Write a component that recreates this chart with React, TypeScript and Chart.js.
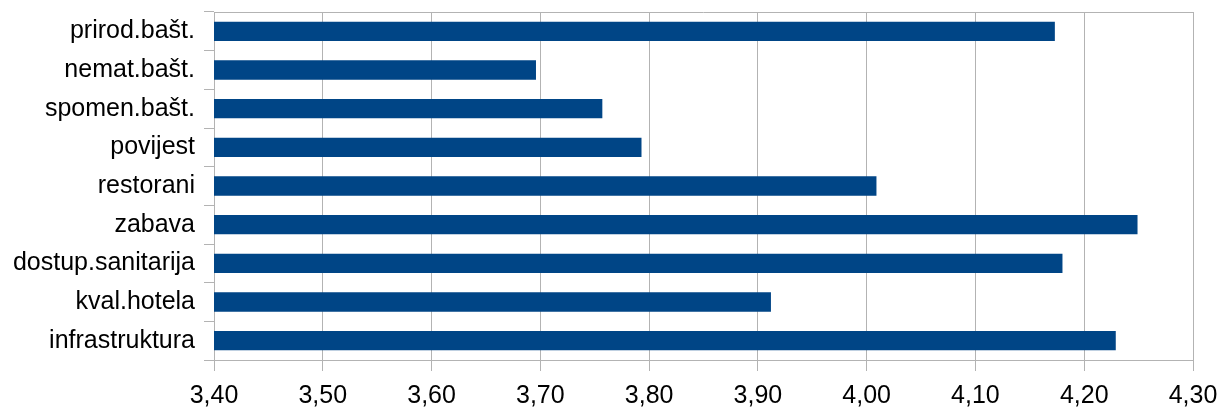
import React, { useEffect, useRef } from "react";
import { Chart, registerables } from "chart.js";

Chart.register(...registerables);

const categories = [
  "prirod.bašt.",
  "nemat.bašt.",
  "spomen.bašt.",
  "povijest",
  "restorani",
  "zabava",
  "dostup.sanitarija",
  "kval.hotela",
  "infrastruktura",
];
const values = [4.173, 3.696, 3.757, 3.793, 4.009, 4.249, 4.18, 3.912, 4.229];
const axisMin = 3.4;
const axisMax = 4.3;
const axisStep = 0.1;

const GRID = "#b3b3b3";
const BAR = "#004586";

const topBorder = {
  id: "topBorder",
  afterDraw(chart: any) {
    const { ctx, chartArea } = chart;
    ctx.save();
    ctx.strokeStyle = GRID;
    ctx.lineWidth = 1;
    ctx.beginPath();
    ctx.moveTo(chartArea.left, chartArea.top + 0.5);
    ctx.lineTo(chartArea.right, chartArea.top + 0.5);
    ctx.stroke();
    ctx.restore();
  },
};

export default function App() {
  const ref = useRef<HTMLCanvasElement | null>(null);
  useEffect(() => {
    document.body.style.margin = "0";
    const chart = new Chart(ref.current as HTMLCanvasElement, {
      type: "bar",
      data: {
        labels: categories,
        datasets: [
          {
            data: values,
            backgroundColor: BAR,
            barPercentage: 0.5,
            categoryPercentage: 1,
          },
        ],
      },
      plugins: [topBorder],
      options: {
        indexAxis: "y",
        animation: false,
        responsive: false,
        maintainAspectRatio: false,
        layout: { padding: { left: 0, top: 12, right: 28, bottom: 0 } },
        plugins: { legend: { display: false }, tooltip: { enabled: false } },
        scales: {
          x: {
            min: axisMin,
            max: axisMax,
            afterFit: (s: any) => {
              s.height = 47;
              s.paddingLeft = 0;
              s.paddingRight = 0;
            },
            ticks: {
              stepSize: axisStep,
              color: "#000",
              padding: 10,
              font: { family: "Liberation Sans", size: 25 },
              callback: (v: any) => Number(v).toFixed(2).replace(".", ","),
            },
            grid: { color: GRID, tickLength: 11, lineWidth: 1 },
            border: { color: GRID },
          },
          y: {
            afterFit: (s: any) => {
              s.width = 214;
              s.paddingTop = 0;
              s.paddingBottom = 0;
            },
            ticks: {
              color: "#000",
              padding: 9,
              font: { family: "Liberation Sans", size: 25 },
            },
            grid: { color: GRID, drawOnChartArea: false, tickLength: 10, offset: true },
            border: { color: GRID },
          },
        },
      },
    });
    return () => chart.destroy();
  }, []);
  return (
    <div style={{ width: 1221, height: 407 }}>
      <canvas ref={ref} width={1221} height={407} style={{ display: "block" }} />
    </div>
  );
}
